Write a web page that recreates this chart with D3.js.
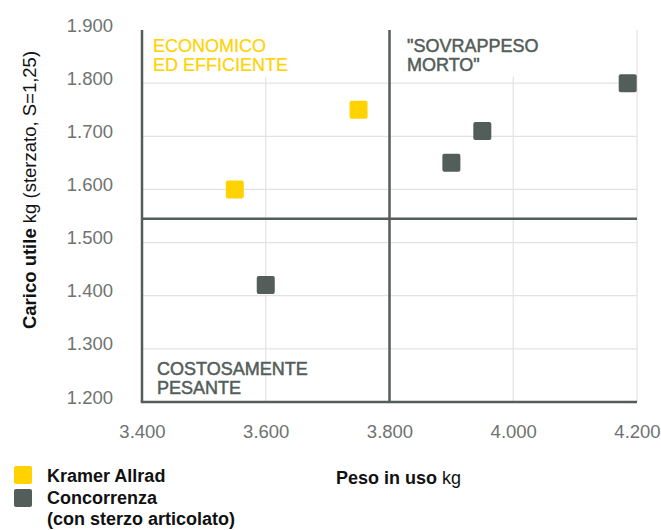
<!DOCTYPE html>
<html>
<head>
<meta charset="utf-8">
<script src="https://cdn.jsdelivr.net/npm/d3@7"></script>
<style>
  body { margin: 0; background: #fff; }
  text { font-family: "Liberation Sans", Arial, sans-serif; }
</style>
</head>
<body>
<div id="chart"></div>
<script>
// data
const xTicks = [3400, 3600, 3800, 4000, 4200];
const yTicks = [1200, 1300, 1400, 1500, 1600, 1700, 1800, 1900];

const kramerWeight = [3550, 3750];
const kramerPayload = [1600, 1750];

const rivalWeight = [3600, 3900, 3950, 4185];
const rivalPayload = [1420, 1650, 1710, 1800];

const splitWeight = 3800;
const splitPayload = 1545;

const legendNames = ["Kramer Allrad", "Concorrenza", "(con sterzo articolato)"];
const quadrantEco = ["ECONOMICO", "ED EFFICIENTE"];
const quadrantDead = ["\"SOVRAPPESO", "MORTO\""];
const quadrantHeavy = ["COSTOSAMENTE", "PESANTE"];

const yellow = "#ffd200";
const dark = "#535d59";
const grid = "#e2e2e2";

const width = 661, height = 530;

const svg = d3.select("#chart").append("svg")
    .attr("width", width)
    .attr("height", height);

const x = d3.scaleLinear().domain([3400, 4200]).range([142, 637]);
const y = d3.scaleLinear().domain([1200, 1900]).range([402, 30]);

const it = d3.formatLocale({decimal: ",", thousands: ".", grouping: [3], currency: ["", "€"]});
const fmt = it.format(",");

// grid
const g = svg.append("g");
g.selectAll(".hgrid")
    .data(yTicks.filter(d => d > 1200 && d < 1900))
    .enter().append("line")
    .attr("x1", x(3400)).attr("x2", x(4200))
    .attr("y1", d => y(d)).attr("y2", d => y(d))
    .attr("stroke", grid).attr("stroke-width", 1.2);

g.selectAll(".vgrid")
    .data(xTicks.filter(d => d > 3400 && d != splitWeight))
    .enter().append("line")
    .attr("x1", d => x(d)).attr("x2", d => x(d))
    .attr("y1", d => d == 4200 ? y(1900) : y(1812))
    .attr("y2", y(1200))
    .attr("stroke", grid).attr("stroke-width", 1.2);

// axes labels
const xAxis = svg.append("g")
    .attr("transform", `translate(0,${y(1200)})`)
    .call(d3.axisBottom(x).tickValues(xTicks).tickFormat(fmt).tickSize(0).tickPadding(23));
xAxis.select(".domain").remove();
xAxis.selectAll("text")
    .attr("fill", "#6e7371")
    .style("font-size", "18.5px")
    .style("font-family", "\"Liberation Sans\", Arial, sans-serif");

const yAxis = svg.append("g")
    .attr("transform", `translate(${x(3400)},0)`)
    .call(d3.axisLeft(y).tickValues(yTicks).tickFormat(fmt).tickSize(0).tickPadding(29));
yAxis.select(".domain").remove();
yAxis.selectAll("text")
    .attr("dy", "0.06em")
    .attr("fill", "#6e7371")
    .style("font-size", "18.5px")
    .style("font-family", "\"Liberation Sans\", Arial, sans-serif");

// frame and quadrant dividers
svg.append("line")
    .attr("x1", x(3400)).attr("x2", x(3400))
    .attr("y1", y(1900)).attr("y2", y(1200))
    .attr("stroke", dark).attr("stroke-width", 2.5);
svg.append("line")
    .attr("x1", x(3400) - 1.25).attr("x2", x(4200))
    .attr("y1", y(1200)).attr("y2", y(1200))
    .attr("stroke", dark).attr("stroke-width", 2.5);
svg.append("line")
    .attr("x1", x(splitWeight)).attr("x2", x(splitWeight))
    .attr("y1", y(1900)).attr("y2", y(1200))
    .attr("stroke", dark).attr("stroke-width", 2.5);
svg.append("line")
    .attr("x1", x(3400)).attr("x2", x(4200))
    .attr("y1", y(splitPayload)).attr("y2", y(splitPayload))
    .attr("stroke", dark).attr("stroke-width", 2.5);

// quadrant labels
function block(lines, px, py, color, heavy) {
    const t = svg.append("text")
        .attr("x", px).attr("y", py)
        .attr("fill", color)
        .attr("stroke", color)
        .attr("stroke-width", heavy)
        .style("font-size", "18px");
    t.selectAll("tspan").data(lines).enter().append("tspan")
        .attr("x", px)
        .attr("dy", (d, i) => i ? 18.5 : 0)
        .text(d => d);
}
block(quadrantEco, 153, 52, yellow, 0.2);
block(quadrantDead, 407, 52, dark, 0.5);
block(quadrantHeavy, 157, 375, dark, 0.5);

// points
const size = 18;
const kramer = kramerWeight.map((w, i) => ({w: w, p: kramerPayload[i]}));
const rivals = rivalWeight.map((w, i) => ({w: w, p: rivalPayload[i]}));

svg.selectAll(".kramer").data(kramer).enter().append("rect")
    .attr("x", d => x(d.w) - size / 2)
    .attr("y", d => y(d.p) - size / 2)
    .attr("width", size).attr("height", size)
    .attr("rx", 2)
    .attr("fill", yellow);

svg.selectAll(".rival").data(rivals).enter().append("rect")
    .attr("x", d => x(d.w) - size / 2)
    .attr("y", d => y(d.p) - size / 2)
    .attr("width", size).attr("height", size)
    .attr("rx", 2)
    .attr("fill", dark);

// axis titles
const yt = svg.append("text")
    .attr("transform", "translate(36,190) rotate(-90)")
    .attr("text-anchor", "middle")
    .attr("fill", "#111")
    .style("font-size", "18.5px");
yt.append("tspan").attr("font-weight", "bold").text("Carico utile");
yt.append("tspan").text(" kg (sterzato, S=1,25)");

const xt = svg.append("text")
    .attr("x", 336).attr("y", 484)
    .attr("fill", "#111")
    .style("font-size", "18px");
xt.append("tspan").attr("font-weight", "bold").text("Peso in uso");
xt.append("tspan").text(" kg");

// legend
const legend = svg.append("g");
legend.append("rect")
    .attr("x", 14).attr("y", 466).attr("width", 18).attr("height", 18)
    .attr("rx", 2).attr("fill", yellow);
legend.append("rect")
    .attr("x", 14).attr("y", 489).attr("width", 18).attr("height", 18)
    .attr("rx", 2).attr("fill", dark);
legend.selectAll(".lt").data(legendNames).enter().append("text")
    .attr("x", 47)
    .attr("y", (d, i) => 482 + i * 21.5)
    .attr("fill", "#111")
    .attr("font-weight", "bold")
    .style("font-size", "18px")
    .text(d => d);
</script>
</body>
</html>
